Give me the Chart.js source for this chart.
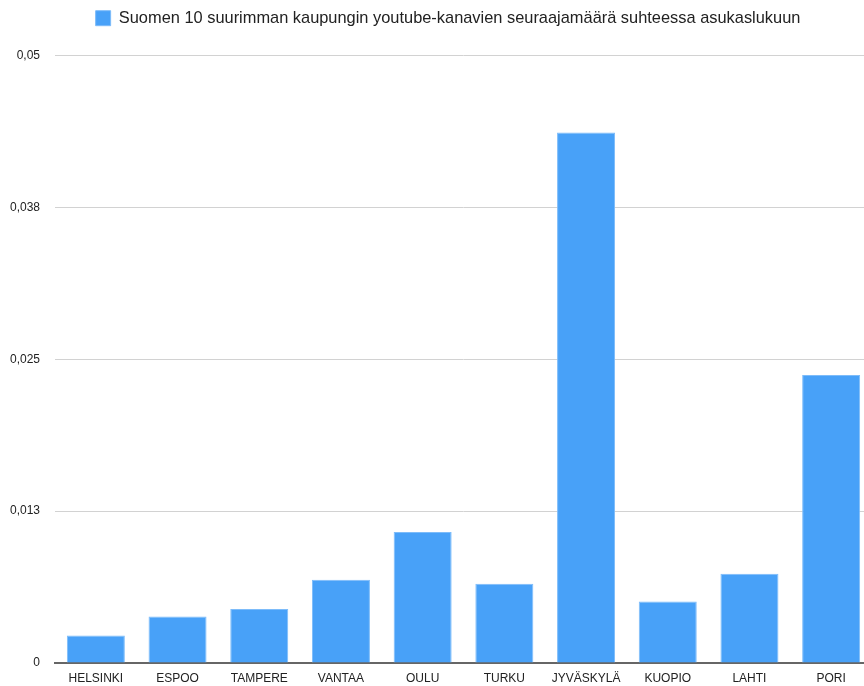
<!DOCTYPE html>
<html>
<head>
<meta charset="utf-8">
<script src="https://cdn.jsdelivr.net/npm/chart.js@4/dist/chart.umd.min.js"></script>
<style>
html,body{margin:0;padding:0;background:#fff;overflow:hidden;}
#wrap{width:872px;height:686px;position:relative;}
</style>
</head>
<body>
<div id="wrap"><canvas id="c" width="872" height="686"></canvas></div>
<script>
const categories = ["HELSINKI","ESPOO","TAMPERE","VANTAA","OULU","TURKU","JYVÄSKYLÄ","KUOPIO","LAHTI","PORI"];
const seriesLabel = "Suomen 10 suurimman kaupungin youtube-kanavien seuraajamäärä suhteessa asukaslukuun";
const values = [0.00227,0.00383,0.00444,0.00685,0.01077,0.00652,0.04365,0.00506,0.00734,0.0237];
const tickValues = [0,0.0125,0.025,0.0375,0.05];
const tickLabels = ["0","0,013","0,025","0,038","0,05"];

const FONT = "'Liberation Sans', Arial, Helvetica, sans-serif";

const legendSpace = {
  id: 'legendSpace',
  beforeInit(chart) {
    const origFit = chart.legend.fit;
    chart.legend.fit = function () {
      origFit.bind(chart.legend)();
      this.height += chart.options.plugins.legendSpace.extra;
    };
  },
  afterLayout(chart) {
    chart.legend.left += chart.options.plugins.legendSpace.shift;
  }
};

new Chart(document.getElementById('c'), {
  type: 'bar',
  data: {
    labels: categories,
    datasets: [{
      label: seriesLabel,
      data: values,
      backgroundColor: '#48a1f8',
      borderColor: '#7dbcfa',
      borderWidth: 1,
      categoryPercentage: 1,
      barPercentage: 0.71
    }]
  },
  plugins: [legendSpace],
  options: {
    responsive: false,
    animation: false,
    layout: { padding: { left: 4, right: 0, top: 0, bottom: 0 } },
    plugins: {
      tooltip: { enabled: false },
      legendSpace: { extra: 19, shift: 20 },
      legend: {
        position: 'top',
        labels: {
          boxWidth: 15, boxHeight: 15,
          color: '#222',
          font: { family: FONT, size: 16.4 },
          padding: 10
        }
      }
    },
    scales: {
      x: {
        grid: { display: false, drawTicks: false },
        border: { display: true, color: '#666', width: 2 },
        ticks: { color: '#222', font: { family: FONT, size: 12 }, padding: 8, maxRotation: 0, autoSkip: false },
        afterFit: (axis) => { axis.height = 23; }
      },
      y: {
        min: 0, max: 0.05,
        afterBuildTicks: (axis) => { axis.ticks = tickValues.map(v => ({ value: v })); },
        grid: { color: (ctx) => ctx.tick && ctx.tick.value === 0 ? '#666' : '#d2d2d2', lineWidth: 1, drawTicks: false },
        border: { display: false },
        ticks: {
          color: '#222', font: { family: FONT, size: 12 }, padding: 15,
          callback: (v) => { const i = tickValues.indexOf(v); return i >= 0 ? tickLabels[i] : ''; }
        },
        afterFit: (axis) => { axis.width = 51; }
      }
    }
  }
});
</script>
</body>
</html>
